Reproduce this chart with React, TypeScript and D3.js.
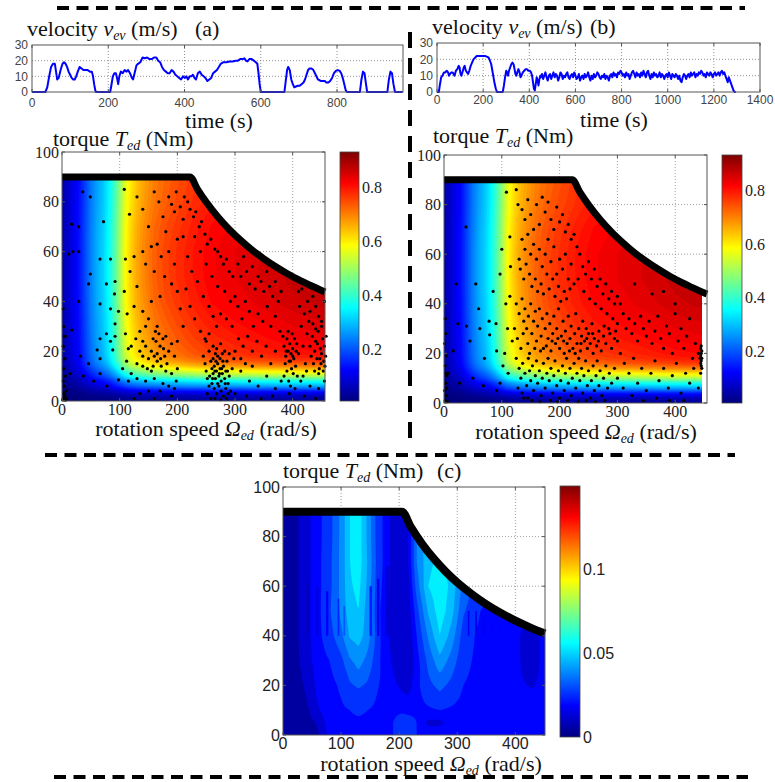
import React, { useMemo } from "react";
import * as d3 from "d3";

// ---------------- DATA ----------------
const velTicksA = [0, 200, 400, 600, 800];
const velTicksB = [0, 200, 400, 600, 800, 1000, 1200, 1400];
const velYTicks = [0, 10, 20, 30];
const heatXTicks = [0, 100, 200, 300, 400];
const heatYTicks = [0, 20, 40, 60, 80, 100];
const cbTicksAB = [0.2, 0.4, 0.6, 0.8];
const cbTicksC = [0, 0.05, 0.1];

// velocity trace (a): [time s, speed m/s]
const velA = [[0,0],[35,0],[40,3],[45,10],[50,16],[55,18],[60,18],[63,13],[66,8],[70,9],[75,14],[80,18],[84,19],[88,18],[92,16],[96,13],[100,11],[104,9],[108,8],[112,8],[116,10],[120,13],[125,16],[130,15],[135,14],[140,14],[146,14],[152,13],[157,13],[160,10],[163,5],[166,1],[168,0],[205,0],[208,4],[212,10],[216,12],[220,12],[223,9],[226,5],[229,10],[233,13],[238,12],[243,14],[248,13],[252,14],[257,12],[262,9],[265,8],[269,12],[274,17],[278,18],[284,19],[290,22],[296,21.5],[302,22],[308,21],[314,21],[320,22],[326,22],[331,20],[336,19],[341,16],[346,14],[351,13],[356,12],[361,12],[366,14],[371,13],[376,11],[381,10],[386,9],[391,8],[396,10],[401,9],[405,10],[409,8],[414,10],[418,10],[422,11],[426,9],[430,8],[435,12],[440,13],[445,11],[450,10],[455,9],[460,7],[465,8],[470,9],[475,12],[480,13],[485,14],[490,16],[495,18],[502,19],[510,19],[518,19.5],[526,19.5],[534,20],[540,20],[546,21],[552,21],[557,21.5],[561,20],[565,19.5],[570,21],[576,21],[582,20],[587,19],[591,18],[594,12],[597,5],[600,0],[662,0],[666,8],[669,14],[672,16],[676,14],[680,8],[684,5],[688,3],[692,3.5],[697,4],[702,4],[707,5],[712,6],[716,8],[720,11],[724,14],[728,15],[733,15],[738,14],[742,12],[746,10],[750,8],[754,7.5],[758,7],[763,7],[768,7],[772,6],[777,6],[782,7],[787,9],[792,12],[797,13.5],[802,14],[807,13.5],[811,12],[815,9],[819,5],[823,1],[826,0],[860,0],[864,8],[868,13],[872,12],[876,5],[879,0],[932,0],[936,8],[940,13],[944,12],[948,5],[952,0],[972,0]];

// velocity trace (b): [time s, speed m/s]
const velB = [[0,0],[8,0],[12,4],[18,9],[24,10],[30,12],[36,12],[42,13],[48,12],[52,10],[56,11],[62,12],[68,12],[72,11],[76,10],[82,13],[88,14],[94,16],[98,15],[102,11],[106,10],[110,12],[116,15],[120,16],[125,13],[130,12],[135,11],[140,13],[146,16],[152,18],[158,20],[165,21],[172,22],[180,22],[190,22],[200,22],[210,22],[218,21.5],[224,21],[230,19],[235,17],[240,13],[245,9],[250,5],[255,2],[260,0],[285,0],[290,4],[295,9],[300,13],[304,12],[308,10],[312,13],[317,15],[322,17],[327,18],[332,17],[336,14],[340,11],[344,10],[348,12],[353,14],[358,12],[362,9],[366,10],[372,12],[378,13],[384,14],[390,14],[396,13],[402,13],[408,12],[412,10],[416,6],[420,2],[424,1],[428,5],[432,9],[436,7],[440,4],[444,8],[448,10],
[450,9],[455,11],[460,8],[465,10],[470,12],[475,9],[480,7],[485,10],[490,11],[495,8],[500,10],[505,12],[510,9],[515,11],[520,10],[525,7],[530,9],[535,12],[540,11],[545,8],[550,10],[555,9],[560,11],[565,12],[570,9],[575,8],[580,10],[585,11],[590,9],[595,12],[600,10],[605,8],[610,9],[615,11],[620,7],[625,9],[630,10],[635,8],[640,11],[645,9],[650,10],[655,12],[660,9],[665,7],[670,10],[675,8],[680,11],[685,9],[690,10],[695,12],[700,11],[705,9],[710,8],[715,10],[720,9],[725,11],[730,8],[735,10],[740,9],[745,7],[750,10],[755,11],[760,9],[765,12],[770,10],[775,11],[780,9],[785,12],[790,11],[795,13],[800,12],[805,10],[810,11],[815,9],[820,12],[825,10],[830,11],[835,8],[840,10],[845,12],[850,13],[855,11],[860,9],[865,12],[870,10],[875,11],[880,9],[885,12],[890,10],[895,13],[900,11],[905,9],[910,12],[915,13],[920,10],[925,8],[930,11],[935,9],[940,12],[945,10],[950,11],[955,9],[960,10],[965,12],[970,9],[975,11],[980,10],[985,8],[990,10],[995,11],[1000,9],[1005,12],[1010,10],[1015,8],[1020,11],[1025,10],[1030,9],[1035,11],[1040,10],[1045,8],[1050,10],[1055,7],[1060,6],[1065,9],[1070,11],[1075,10],[1080,8],[1085,10],[1090,11],[1095,9],[1100,12],[1105,10],[1110,11],[1115,12],[1120,9],[1125,11],[1130,10],[1135,12],[1140,11],[1145,13],[1150,12],[1155,10],[1160,11],[1165,9],[1170,12],[1175,11],[1180,10],[1185,12],[1190,11],[1195,9],[1200,11],[1205,12],[1210,10],[1215,11],[1220,12],[1225,10],[1230,12],[1235,13],[1240,11],[1245,12],[1250,10],[1255,8],[1260,6],[1265,9],[1270,7],[1275,5],[1280,3],[1285,1],[1290,0],[1295,0]];

// efficiency map (a),(b): speed factor and torque factor
const effSpeed = [0,10,20,30,40,50,60,70,80,90,100,110,120,130,140,160,180,200,230,260,300,350,400,460];
const effSpeedVal = [0.05,0.08,0.11,0.14,0.19,0.24,0.28,0.31,0.355,0.42,0.50,0.585,0.63,0.665,0.69,0.73,0.755,0.775,0.80,0.82,0.835,0.85,0.865,0.875];
const effTorque = [0,2,4,6,8,10,12,14,16,18,20,25,30,40,50,60,70,80,90];
const effTorqueVal = [0.035,0.07,0.17,0.32,0.43,0.59,0.70,0.81,0.88,0.915,0.93,0.95,0.965,0.99,1,1,0.99,0.97,0.96];

// torque envelopes [speed, torque]
const envA = [[0,90],[222,90],[235,85],[250,79.9],[270,74],[290,68.9],[310,64.5],[330,60.5],[350,57.1],[370,54],[390,51.2],[410,48.7],[430,46.5],[456,43.8]];
const envB = [[0,90],[222,90],[235,85],[250,79.9],[270,74],[290,68.9],[310,64.5],[330,60.5],[350,57.1],[370,54],[390,51.2],[410,48.7],[430,46.5],[446,44.8],[455,43.9]];
const envC = [[0,90],[205,90],[220,83.9],[240,76.9],[260,71],[280,65.9],[300,61.5],[325,56.8],[350,52.7],[375,49.2],[400,46.1],[425,43.4],[451,40.9]];

// difference map (c) in 1e-3 units
const cSpeed = [0,20,40,60,80,100,115,130,145,160,175,190,205,215,230,250,270,290,310,340,370,400,420,430,450];
const cTorque = [0,5,10,15,20,25,30,40,50,60,70,80,90];
const cGrid = [
[4,4,5,7,17,20,20,20,20,20,20,22,28,28,22,20,20,18,18,18,18,18,18,18,18],
[4,4,5,9,19,20,21,21,21,20,20,22,28,27,22,13,13,19,19,19,19,19,19,19,19],
[4,4,6,14,20,21,22,23,22,21,20,20,20,19,20,21,22,21,20,20,20,20,20,19,20],
[4,4,8,16,20,22,25,26,25,22,20,19,17,16,20,24,27,24,21,20,20,20,19,18,20],
[4,5,9,17,20,23,28,30,28,23,20,17,13,11,20,27,31,27,22,20,20,19,15,14,20],
[4,5,10,18,21,25,31,35,31,25,19,15,10,9,19,29,36,30,23,20,20,18,12,11,19],
[4,6,11,19,22,27,35,39,34,26,18,14,9,8,19,31,41,33,24,20,20,18,11,10,19],
[4,6,12,20,26,34,44,46,40,28,17,13,9,8,22,37,50,40,26,20,20,18,10,9,19],
[4,6,12,20,28,38,47,50,40,27,17,12,9,10,26,44,54,46,30,22,20,20,20,20,20],
[4,6,12,20,27,38,49,52,42,28,19,12,9,12,32,50,55,48,34,24,22,22,22,22,22],
[4,6,12,20,27,38,50,54,43,29,20,12,9,14,36,48,52,46,34,24,22,22,22,22,22],
[4,6,12,20,26,38,50,54,42,28,20,12,9,14,36,48,52,46,34,24,22,22,22,22,22],
[4,6,12,20,26,38,50,54,42,28,20,12,9,14,36,48,52,46,34,24,22,22,22,22,22]];
const cLevels = [0.008,0.015,0.022,0.029,0.036,0.043,0.05,0.057];
// vertical artefact stripes in (c) above 40 Nm: [speed from, speed to, top torque, value]
const cStripes = [[40,44,62,0.006],[57,61,60,0.01],[74,78,58,0.014],[94,97,55,0.02],[104,107,52,0.028],[149,153,60,0.018],[162,166,63,0.012],[177,182,68,0.008],[318,321,50,0.014],[331,334,50,0.012],[344,347,48,0.012],[357,360,46,0.014],[371,374,45,0.014]];

// operating points (a) [speed rad/s, torque Nm]
const scatterA = [[2,37],[3,30],[4,26],[2,22],[5,17],[3,13],[6,10],[2,8],[4,6],[7,4],[3,3],[5,2],[2,1],[8,1],[1,0.5],[6,0.3],
[36,84],[49,82],[17,71],[29,70],[12,59],[19,60],[29,60],[72,72],[66,57],[84,57],[49,51],[46,47],[77,47],[92,48],[91,43],[29,40],[66,39],[84,37],[98,36],[92,31],[77,27],[66,25],[61,20.5],[66,17],[84,24],[92,26],[88,20.5],[17,28.5],[6,26],[14,11],[37,10],[55,8],[78,6],[66,11],[98,8.5],[46,15],[32,18],
[108,85],[117,75],[130,82],[140,77],[150,70],[160,84],[168,80],[175,74],[185,82],[190,79],[195,76],[198,84],[205,78],[210,73],[180,68],[165,63],[172,58],[185,60],[195,55],[200,65],[155,62],[140,60],[125,58],[118,52],[110,57],[130,46],[145,55],[160,52],[178,50],[190,47],[200,44],[170,42],[155,40],[140,36],[125,38],[113,35],[108,44],[135,28],[145,30],[150,33],[158,25],[162,28],[165,30],[170,22],[175,25],[180,26],[185,20],[190,23],[195,18],[200,24],[155,20],[150,17],[145,22],[140,24],[135,20],[128,25],[120,22],[115,21],[110,27],[130,15],[140,14],[148,13],[155,12],[165,16],[172,14],[180,12],[190,11],[200,13],[160,9],[145,8],[130,9],[120,11],[115,8],[175,7],[185,6],[195,5],[170,4],[150,4],[135,3],[125,1],[160,1],[190,2],[198,8],[105,13],[112,16],[140,18],[165,19],[178,18],[160,18],[163,24],[168,27],[171,17],[176,21],[182,15],[158,14],
[212,82],[218,80],[222,77],[228,74],[232,76],[238,70],[242,72],[248,67],[252,63],[258,65],[265,61],[270,60],[275,58],[280,55],[285,57],[290,52],[296,50],[230,66],[240,60],[250,55],[260,50],[270,46],[282,44],[292,40],[300,42],[210,66],[218,58],[225,52],[235,48],[245,42],[255,38],[262,34],[268,30],[275,35],[285,33],[295,30],[215,45],[222,38],[230,33],[240,28],[248,25],[255,27],[210,30],[205,37],
[245,18],[248,15],[250,12],[252,9],[255,6],[252,3],[258,16],[260,13],[262,11],[264,14],[266,9],[268,12],[270,15],[272,10],[274,13],[276,8],[278,11],[280,14],[282,9],[284,12],[286,16],[288,7],[290,10],[262,17],[266,19],[270,18],[274,17],[278,19],[260,7],[264,5],[268,3],[272,6],[276,4],[280,2],[284,5],[288,3],[258,1],[265,1],[275,0.5],[285,1],[292,4],[295,13],[268,21],[275,23],[262,22],[255,20],[250,24],[282,20],[290,19],[298,17],[256,10],[261,9],[267,16],[273,11],[279,16],[283,7],[270,7],[265,12],[277,13],[287,12],
[305,55],[310,50],[315,58],[320,52],[325,47],[330,54],[335,45],[340,50],[345,48],[350,44],[355,52],[360,46],[365,42],[370,48],[375,40],[380,44],[305,38],[312,33],[318,40],[325,36],[332,30],[340,35],[348,32],[356,38],[362,30],[370,34],[378,28],[306,25],[314,22],[322,26],[330,20],[338,24],[346,18],[354,22],[362,15],[370,20],[310,12],[325,8],[340,6],[355,10],[370,5],[300,3],[320,2],[345,1],[365,2],[380,8],[310,17],[330,14],[300,20],[318,15],
[385,22],[388,18],[390,25],[392,20],[394,16],[395,23],[397,19],[398,13],[400,21],[402,17],[403,25],[405,14],[406,20],[408,10],[390,12],[393,8],[396,6],[399,27],[392,28],[387,15],[401,11],[404,5],[389,20],[396,16],[400,18],[385,10],[407,23],[383,26],[410,19],[394,3],
[430,22],[432,18],[434,26],[436,15],[438,20],[440,24],[442,17],[444,28],[446,13],[448,21],[450,19],[452,25],[454,16],[455,22],[456,14],[438,12],[445,11],[450,30],[440,29],[435,31],[457,18],[453,12],[447,17],[443,23],[449,15],[425,27],[420,35],[415,30],[418,22],[422,15],[426,40],[430,36],[435,42],[440,38],[445,34],[450,32],[455,40],[412,38],[416,45],[428,32],[424,12],[414,8],[430,6],[445,5],[455,8],[420,2],[440,1],[410,44],[418,10],[458,26]];

// operating points (b) [speed rad/s, torque Nm]
const scatterB = [[2,34],[3,28],[1,24],[4,19],[2,15],[5,11],[3,8],[1,5],[4,3],[2,1],[6,0.5],[3,12],[5,6],
[38,71],[55,48],[21,48],[97,52],[107,40],[114,43],[90,32],[78,33],[62,30],[79,27.5],[91,21],[39,31],[24,32],[16,21],[7,12],[27,8],[50,10],[68,7],[91,5],[97,8],[111,12],[102,15],[114,67],[125,86],[108,85],[60,38],[85,45],[70,18],[45,25],[110,30],[100,62],[115,55],[118,25],[105,20],
[128,80],[135,78],[140,74],[145,82],[150,76],[155,70],[160,80],[165,72],[170,83],[175,77],[180,81],[185,74],[190,70],[195,79],[200,73],[205,76],[210,69],[215,72],[220,66],[225,68],[230,63],[135,66],[140,62],[145,68],[150,60],[155,64],[160,58],[165,62],[170,55],[175,60],[180,66],[185,57],[190,63],[195,52],[200,58],[205,54],[210,60],[215,50],[220,56],[225,48],[130,58],[132,54],[138,50],[142,56],[148,52],[152,47],[158,50],[162,45],[168,48],[172,44],[178,52],[182,46],[188,50],[192,43],[198,47],[202,41],[208,45],[212,42],[218,46],[235,60],[240,55],[245,52],[250,57],[255,50],[260,54],[265,47],[270,50],[275,44],[280,48],[285,42],[290,45],[295,40],[300,43],[232,50],[242,45],[252,42],[262,40],[272,38],[282,36],[292,34],[300,32],
[125,40],[130,36],[135,42],[138,33],[140,38],[143,30],[146,35],[150,40],[152,28],[155,33],[158,37],[160,25],[162,31],[165,38],[168,27],[170,34],[172,22],[175,30],[178,36],[180,26],[183,32],[185,21],[188,28],[190,35],[193,24],[195,30],[198,38],[200,22],[203,27],[206,33],[208,20],[210,29],[213,24],[215,35],[218,26],[220,31],[223,22],[226,28],[228,36],[230,24],[233,30],[236,21],[238,27],[240,33],[243,25],[246,30],[248,22],[250,28],[253,24],[256,32],[258,20],[260,26],[264,23],[268,29],[272,21],[276,27],[280,24],[285,30],[290,22],[295,26],[122,30],[127,26],[133,22],[137,28],[145,24],[148,20],[157,22],[167,21],[177,23],[187,25],[197,26],[207,25],[217,21],[227,20],[237,24],[247,26],[257,28],[267,25],[277,31],[287,28],[297,29],[300,25],
[125,18],[130,14],[133,10],[136,16],[140,12],[143,7],[146,18],[148,13],[150,9],[153,15],[155,5],[158,11],[160,17],[162,8],[165,13],[168,3],[170,10],[172,16],[175,6],[178,12],[180,18],[182,9],[185,14],[188,4],[190,11],[192,17],[195,7],[198,13],[200,2],[202,9],[205,15],[208,5],[210,12],[212,18],[215,8],[218,14],[220,3],[222,10],[225,16],[228,6],[230,12],[233,18],[235,9],[238,14],[240,4],[242,11],[245,17],[248,7],[250,13],[253,2],[255,9],[258,15],[260,5],[263,11],[265,17],[268,7],[270,13],[273,3],[276,10],[280,15],[283,6],[286,12],[290,8],[295,14],[300,10],[138,2],[152,1],[166,0.5],[184,1],[196,0.5],[214,1],[232,0.5],[246,1],[262,0.5],[278,1],[128,6],[135,4],[145,2],
[305,40],[310,36],[315,30],[320,34],[325,28],[330,32],[335,25],[340,35],[345,30],[350,27],[355,33],[360,24],[365,29],[370,35],[375,26],[380,22],[385,31],[390,28],[395,20],[400,36],[405,25],[410,30],[415,22],[420,27],[425,34],[430,18],[435,24],[440,20],[305,20],[312,16],[320,12],[328,18],[335,8],[342,14],[350,5],[358,12],[365,17],[372,9],[380,14],[388,6],[395,11],[402,16],[410,4],[418,12],[425,8],[432,14],[440,6],[310,6],[325,3],[345,1],[368,2],[390,1],[415,1],[360,44],[330,48],[400,40],[380,45],
[444,16],[445,17],[446,18],[444,19],[445,20],[446,21],[445,15],[444,22],[446,14],[443,18],[445,23],[444,12]];

// ---------------- HELPERS ----------------
const jetStops = [0, 0.125, 0.375, 0.625, 0.875, 1];
const jetColors = ["#00007f", "#0000ff", "#00ffff", "#ffff00", "#ff0000", "#7f0000"];
const jet = d3.scaleLinear<string>().domain(jetStops).range(jetColors).interpolate(d3.interpolateRgb).clamp(true);

function interp1(xs: number[], ys: number[], x: number) {
  let i = d3.bisectRight(xs, x) - 1;
  i = Math.max(0, Math.min(xs.length - 2, i));
  const t = Math.max(0, Math.min(1, (x - xs[i]) / (xs[i + 1] - xs[i])));
  return ys[i] + (ys[i + 1] - ys[i]) * t;
}
function bilinear(xs: number[], ys: number[], grid: number[][], x: number, y: number) {
  let i = d3.bisectRight(xs, x) - 1;
  i = Math.max(0, Math.min(xs.length - 2, i));
  let j = d3.bisectRight(ys, y) - 1;
  j = Math.max(0, Math.min(ys.length - 2, j));
  const tx = Math.max(0, Math.min(1, (x - xs[i]) / (xs[i + 1] - xs[i])));
  const ty = Math.max(0, Math.min(1, (y - ys[j]) / (ys[j + 1] - ys[j])));
  const a = grid[j][i] * (1 - tx) + grid[j][i + 1] * tx;
  const b = grid[j + 1][i] * (1 - tx) + grid[j + 1][i + 1] * tx;
  return a * (1 - ty) + b * ty;
}

const SERIF = "'Liberation Serif', 'Times New Roman', Times, serif";
const SANS = "'Liberation Sans', Arial, Helvetica, sans-serif";

function VelPanel(p: any) {
  const { x0, x1, y0, y1, tMax, ticks, data, tickBase } = p;
  const xS = d3.scaleLinear().domain([0, tMax]).range([x0, x1]);
  const yS = d3.scaleLinear().domain([0, 30]).range([y1, y0]);
  const line = d3.line<number[]>().x((d) => xS(d[0])).y((d) => yS(d[1]));
  return (
    <g>
      <rect x={x0} y={y0} width={x1 - x0} height={y1 - y0} fill="#fff" />
      {ticks.filter((t: number) => t > 0 && xS(t) < x1 - 2).map((t: number) => (
        <line key={"gx" + t} x1={xS(t)} x2={xS(t)} y1={y0} y2={y1} stroke="#777" strokeWidth={0.8} strokeDasharray="1,2" />
      ))}
      {[10, 20].map((v) => (
        <line key={"gy" + v} x1={x0} x2={x1} y1={yS(v)} y2={yS(v)} stroke="#777" strokeWidth={0.8} strokeDasharray="1,2" />
      ))}
      <path d={line(data) || ""} fill="none" stroke="#0000ff" strokeWidth={2} strokeLinejoin="round" />
      <rect x={x0} y={y0} width={x1 - x0} height={y1 - y0} fill="none" stroke="#555" strokeWidth={1} />
      {ticks.map((t: number) => (
        <g key={"t" + t}>
          <line x1={xS(t)} x2={xS(t)} y1={y1} y2={y1 - 3} stroke="#555" />
          <line x1={xS(t)} x2={xS(t)} y1={y0} y2={y0 + 3} stroke="#555" />
          <text x={xS(t)} y={tickBase} textAnchor="middle" style={{ fontFamily: SANS }} fontSize={12} fill="#444">{t}</text>
        </g>
      ))}
      {velYTicks.map((v) => (
        <text key={"y" + v} x={x0 - 4} y={yS(v)} dy="0.35em" textAnchor="end" style={{ fontFamily: SANS }} fontSize={12} fill="#444">{v}</text>
      ))}
    </g>
  );
}

function makePath(cs: any[], nx: number, ny: number, wMax: number, tMax: number, xS: any, yS: any) {
  const proj = d3.geoTransform({
    point: function (this: any, x: number, y: number) {
      this.stream.point(xS((x / nx) * wMax), yS((y / ny) * tMax));
    },
  });
  const path = d3.geoPath(proj);
  return cs.map((c) => path(c) || "");
}

function HeatPanel(p: any) {
  const { id, x0, x1, y0, y1, wDom, regionEnd, env, fn, thresholds, colorOf, baseColor, scatter, stripes, tickFont, tickColor, xTickBase, cb, cbDom, cbTicks, cbLabel, lineW } = p;
  const xS = d3.scaleLinear().domain([0, wDom]).range([x0, x1]);
  const yS = d3.scaleLinear().domain([0, 100]).range([y1, y0]);
  const tMax = 92;
  const nx = 230, ny = 230;
  const paths = useMemo(() => {
    const vals = new Array(nx * ny);
    for (let j = 0; j < ny; j++) {
      const T = ((j + 0.5) / ny) * tMax;
      for (let i = 0; i < nx; i++) {
        const w = ((i + 0.5) / nx) * regionEnd;
        vals[j * nx + i] = fn(w, T);
      }
    }
    const cs = d3.contours().size([nx, ny]).thresholds(thresholds)(vals);
    return makePath(cs, nx, ny, regionEnd, tMax, xS, yS).map((d, k) => ({ d, color: colorOf(cs[k].value) }));
  }, [id]);
  const envCurve = d3.line<number[]>().x((d) => xS(d[0])).y((d) => yS(d[1])).curve(d3.curveMonotoneX);
  const regionPts = env.filter((d: number[]) => d[0] <= regionEnd);
  const area = d3.area<number[]>().x((d) => xS(d[0])).y0(yS(0)).y1((d) => yS(d[1])).curve(d3.curveMonotoneX);
  const cbS = d3.scaleLinear().domain(cbDom).range([cb.y1, cb.y0]);
  const tf = { fontFamily: tickFont };
  return (
    <g>
      <defs>
        <clipPath id={"clip" + id}><path d={area(regionPts) || ""} /></clipPath>
        <linearGradient id={"grad" + id} x1="0" y1="1" x2="0" y2="0">
          {jetStops.map((s, k) => <stop key={k} offset={s} stopColor={jetColors[k]} />)}
        </linearGradient>
      </defs>
      <rect x={x0} y={y0} width={x1 - x0} height={y1 - y0} fill="#fff" />
      {heatXTicks.filter((t) => t > 0).map((t) => (
        <line key={"gx" + t} x1={xS(t)} x2={xS(t)} y1={y0} y2={y1} stroke="#888" strokeWidth={0.8} strokeDasharray="1,2" />
      ))}
      {heatYTicks.filter((t) => t > 0 && t < 100).map((t) => (
        <line key={"gy" + t} x1={x0} x2={x1} y1={yS(t)} y2={yS(t)} stroke="#888" strokeWidth={0.8} strokeDasharray="1,2" />
      ))}
      <g clipPath={`url(#clip${id})`}>
        <rect x={x0} y={y0} width={xS(regionEnd) - x0} height={y1 - y0} fill={baseColor} />
        {paths.map((c: any, k: number) => <path key={k} d={c.d} fill={c.color} stroke="none" />)}
        {stripes && stripes.map((s: number[], k: number) => (
          <rect key={"s" + k} x={xS(s[0])} width={xS(s[1]) - xS(s[0])} y={yS(s[2])} height={yS(40) - yS(s[2])} fill={colorOf(s[3])} />
        ))}
      </g>
      {scatter && scatter.map((d: number[], k: number) => (
        <circle key={"p" + k} cx={xS(d[0])} cy={yS(d[1])} r={1.6} fill="#000" />
      ))}
      <path d={envCurve(env) || ""} fill="none" stroke="#000" strokeWidth={lineW} />
      <rect x={x0} y={y0} width={x1 - x0} height={y1 - y0} fill="none" stroke="#555" strokeWidth={1} />
      {heatXTicks.map((t) => (
        <g key={"xt" + t}>
          <line x1={xS(t)} x2={xS(t)} y1={y1} y2={y1 - 3} stroke="#555" />
          <line x1={xS(t)} x2={xS(t)} y1={y0} y2={y0 + 3} stroke="#555" />
          <text x={xS(t)} y={xTickBase} textAnchor="middle" style={tf} fontSize={16} fill={tickColor}>{t}</text>
        </g>
      ))}
      {heatYTicks.map((t) => (
        <g key={"yt" + t}>
          <line x1={x0} x2={x0 + 3} y1={yS(t)} y2={yS(t)} stroke="#555" />
          <line x1={x1} x2={x1 - 3} y1={yS(t)} y2={yS(t)} stroke="#555" />
          <text x={x0 - 3} y={yS(t)} dy="0.35em" textAnchor="end" style={tf} fontSize={16} fill={tickColor}>{t}</text>
        </g>
      ))}
      <rect x={cb.x0} y={cb.y0} width={cb.x1 - cb.x0} height={cb.y1 - cb.y0} fill={`url(#grad${id})`} stroke="#444" strokeWidth={0.8} />
      {cbTicks.map((t: number) => (
        <text key={"cb" + t} x={cb.x1 + 3} y={cbS(t)} dy="0.35em" style={tf} fontSize={16} fill={tickColor}>{cbLabel(t)}</text>
      ))}
    </g>
  );
}

export default function App() {
  const effFn = (w: number, T: number) => interp1(effSpeed, effSpeedVal, w) * interp1(effTorque, effTorqueVal, T);
  const thrAB = d3.range(0.01, 0.93, 0.0125);
  const colAB = (v: number) => jet((v + 0.006 - 0.01) / 0.92);
  const cFn = (w: number, T: number) => bilinear(cSpeed, cTorque, cGrid, w, T) / 1000;
  const colC = (v: number) => jet((v + 0.004) / 0.15);
  const dash = { stroke: "#000", strokeWidth: 4, strokeDasharray: "12,7.5" };
  const serifStyle = { fontFamily: SERIF };
  const title = (x: number, y: number, sym: string, sub: string, pre: string, post: string, anchor = "start") => (
    <text x={x} y={y} style={serifStyle} fontSize={22} fill="#111" textAnchor={anchor}>
      {pre}<tspan fontStyle="italic">{sym}</tspan><tspan fontStyle="italic" fontSize={14} dy={4}>{sub}</tspan><tspan dy={-4}>{post}</tspan>
    </text>
  );
  return (
    <svg width={775} height={782} style={{ position: "absolute", left: 0, top: 0, background: "#fff" }}>
      <rect width={775} height={782} fill="#fff" />
      {/* separators */}
      <line x1={57} x2={745} y1={8} y2={8} {...dash} />
      <line x1={45} x2={735} y1={455} y2={455} {...dash} />
      <line x1={54} x2={748} y1={777} y2={777} {...dash} />
      <line x1={410} x2={410} y1={32} y2={444} stroke="#000" strokeWidth={4} strokeDasharray="16,10" />

      {/* (a) velocity */}
      {title(27, 36, "v", "ev", "velocity ", " (m/s)")}
      <text x={195} y={36} style={serifStyle} fontSize={22} fill="#111">(a)</text>
      <VelPanel x0={32} x1={403} y0={45} y1={92} tMax={973} ticks={velTicksA} data={velA} tickBase={107} />
      <text x={219} y={128} textAnchor="middle" style={serifStyle} fontSize={22} fill="#111">time (s)</text>

      {/* (b) velocity */}
      {title(432, 34, "v", "ev", "velocity ", " (m/s)")}
      <text x={590} y={34} style={serifStyle} fontSize={22} fill="#111">(b)</text>
      <VelPanel x0={437} x1={760} y0={43} y1={92} tMax={1400} ticks={velTicksB} data={velB} tickBase={104} />
      <text x={614} y={127} textAnchor="middle" style={serifStyle} fontSize={22} fill="#111">time (s)</text>

      {/* (a) map */}
      {title(53, 146, "T", "ed", "torque ", " (Nm)")}
      <HeatPanel id="A" x0={62} x1={325} y0={152} y1={401} wDom={456} regionEnd={456} env={envA} fn={effFn}
        thresholds={thrAB} colorOf={colAB} baseColor={jet(0)} scatter={scatterA} tickFont={SERIF} tickColor="#222"
        xTickBase={415} cb={{ x0: 340, x1: 359, y0: 152, y1: 401 }} cbDom={[0.01, 0.93]} cbTicks={cbTicksAB}
        cbLabel={(t: number) => t.toFixed(1)} lineW={7} />
      {title(206, 436, "Ω", "ed", "rotation speed ", " (rad/s)", "middle")}

      {/* (b) map */}
      {title(433, 143, "T", "ed", "torque ", " (Nm)")}
      <HeatPanel id="B" x0={444} x1={707} y0={155} y1={403} wDom={455} regionEnd={446} env={envB} fn={effFn}
        thresholds={thrAB} colorOf={colAB} baseColor={jet(0)} scatter={scatterB} tickFont={SERIF} tickColor="#222"
        xTickBase={417} cb={{ x0: 722, x1: 742, y0: 155, y1: 403 }} cbDom={[0.01, 0.93]} cbTicks={cbTicksAB}
        cbLabel={(t: number) => t.toFixed(1)} lineW={7} />
      {title(586, 439, "Ω", "ed", "rotation speed ", " (rad/s)", "middle")}

      {/* (c) map */}
      {title(283, 478, "T", "ed", "torque ", " (Nm)")}
      <text x={437} y={478} style={serifStyle} fontSize={22} fill="#111">(c)</text>
      <HeatPanel id="C" x0={283} x1={545} y0={487} y1={735} wDom={451} regionEnd={451} env={envC} fn={cFn}
        thresholds={cLevels} colorOf={colC} baseColor={colC(0.001)} stripes={cStripes} tickFont={SANS} tickColor="#222"
        xTickBase={749} cb={{ x0: 560, x1: 580, y0: 486, y1: 737 }} cbDom={[0, 0.15]} cbTicks={cbTicksC}
        cbLabel={(t: number) => (t === 0 ? "0" : String(t))} lineW={8} />
      {title(431, 771, "Ω", "ed", "rotation speed ", " (rad/s)", "middle")}
    </svg>
  );
}
